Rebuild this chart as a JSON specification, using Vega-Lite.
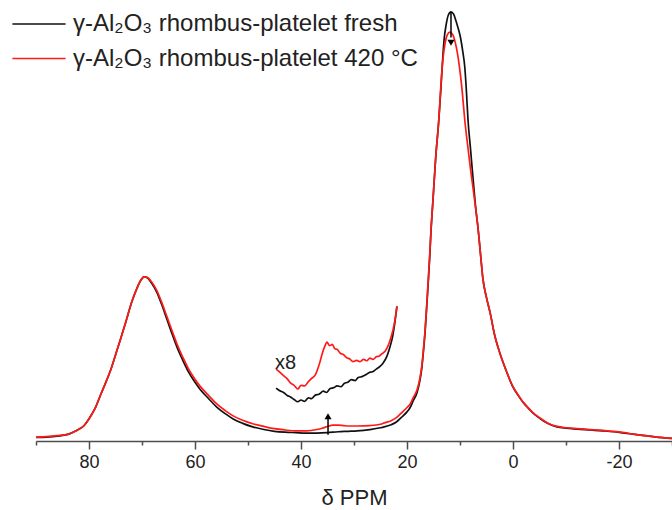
{
  "$schema": "https://vega.github.io/schema/vega-lite/v6.json",
  "width": 636,
  "height": 441,
  "autosize": "none",
  "padding": {"left": 36, "top": 0, "right": 0, "bottom": 69},
  "background": "white",
  "config": {"view": {"stroke": null}, "font": "Liberation Sans"},
  "datasets": {
    "curves": [
      {"ppm": 90, "v": 0.8, "series": "fresh", "part": "main"},
      {"ppm": 88, "v": 0.9, "series": "fresh", "part": "main"},
      {"ppm": 86, "v": 1.1, "series": "fresh", "part": "main"},
      {"ppm": 84, "v": 1.5, "series": "fresh", "part": "main"},
      {"ppm": 83, "v": 2.0, "series": "fresh", "part": "main"},
      {"ppm": 82, "v": 2.6, "series": "fresh", "part": "main"},
      {"ppm": 81, "v": 3.4, "series": "fresh", "part": "main"},
      {"ppm": 80.4, "v": 4.3, "series": "fresh", "part": "main"},
      {"ppm": 79.5, "v": 6.0, "series": "fresh", "part": "main"},
      {"ppm": 78.7, "v": 7.8, "series": "fresh", "part": "main"},
      {"ppm": 77.9, "v": 10.2, "series": "fresh", "part": "main"},
      {"ppm": 77, "v": 12.8, "series": "fresh", "part": "main"},
      {"ppm": 76, "v": 15.8, "series": "fresh", "part": "main"},
      {"ppm": 75, "v": 19.5, "series": "fresh", "part": "main"},
      {"ppm": 74, "v": 23.3, "series": "fresh", "part": "main"},
      {"ppm": 73, "v": 27.2, "series": "fresh", "part": "main"},
      {"ppm": 72, "v": 31.3, "series": "fresh", "part": "main"},
      {"ppm": 71, "v": 34.5, "series": "fresh", "part": "main"},
      {"ppm": 70.2, "v": 36.5, "series": "fresh", "part": "main"},
      {"ppm": 69.6, "v": 37.2, "series": "fresh", "part": "main"},
      {"ppm": 69, "v": 37.0, "series": "fresh", "part": "main"},
      {"ppm": 68.2, "v": 35.8, "series": "fresh", "part": "main"},
      {"ppm": 67.2, "v": 33.7, "series": "fresh", "part": "main"},
      {"ppm": 66.3, "v": 31.0, "series": "fresh", "part": "main"},
      {"ppm": 65.3, "v": 27.6, "series": "fresh", "part": "main"},
      {"ppm": 64.3, "v": 24.2, "series": "fresh", "part": "main"},
      {"ppm": 63.3, "v": 21.0, "series": "fresh", "part": "main"},
      {"ppm": 62.3, "v": 18.3, "series": "fresh", "part": "main"},
      {"ppm": 61.2, "v": 15.6, "series": "fresh", "part": "main"},
      {"ppm": 60, "v": 13.3, "series": "fresh", "part": "main"},
      {"ppm": 59.1, "v": 11.8, "series": "fresh", "part": "main"},
      {"ppm": 57.5, "v": 9.7, "series": "fresh", "part": "main"},
      {"ppm": 55.9, "v": 7.7, "series": "fresh", "part": "main"},
      {"ppm": 54.3, "v": 6.2, "series": "fresh", "part": "main"},
      {"ppm": 52.8, "v": 5.0, "series": "fresh", "part": "main"},
      {"ppm": 51, "v": 4.0, "series": "fresh", "part": "main"},
      {"ppm": 49.1, "v": 3.2, "series": "fresh", "part": "main"},
      {"ppm": 47, "v": 2.6, "series": "fresh", "part": "main"},
      {"ppm": 45, "v": 2.2, "series": "fresh", "part": "main"},
      {"ppm": 43, "v": 2.0, "series": "fresh", "part": "main"},
      {"ppm": 41, "v": 1.9, "series": "fresh", "part": "main"},
      {"ppm": 39, "v": 1.8, "series": "fresh", "part": "main"},
      {"ppm": 37, "v": 1.8, "series": "fresh", "part": "main"},
      {"ppm": 35, "v": 1.9, "series": "fresh", "part": "main"},
      {"ppm": 33, "v": 2.1, "series": "fresh", "part": "main"},
      {"ppm": 31, "v": 2.2, "series": "fresh", "part": "main"},
      {"ppm": 29.4, "v": 2.3, "series": "fresh", "part": "main"},
      {"ppm": 27, "v": 2.6, "series": "fresh", "part": "main"},
      {"ppm": 25, "v": 3.0, "series": "fresh", "part": "main"},
      {"ppm": 24.3, "v": 3.2, "series": "fresh", "part": "main"},
      {"ppm": 23, "v": 3.7, "series": "fresh", "part": "main"},
      {"ppm": 22, "v": 4.3, "series": "fresh", "part": "main"},
      {"ppm": 21.1, "v": 5.3, "series": "fresh", "part": "main"},
      {"ppm": 20, "v": 6.6, "series": "fresh", "part": "main"},
      {"ppm": 19.4, "v": 7.6, "series": "fresh", "part": "main"},
      {"ppm": 18.8, "v": 9.2, "series": "fresh", "part": "main"},
      {"ppm": 18.1, "v": 11.0, "series": "fresh", "part": "main"},
      {"ppm": 17.6, "v": 13.5, "series": "fresh", "part": "main"},
      {"ppm": 17.2, "v": 16.6, "series": "fresh", "part": "main"},
      {"ppm": 16.9, "v": 20.3, "series": "fresh", "part": "main"},
      {"ppm": 16.6, "v": 24.5, "series": "fresh", "part": "main"},
      {"ppm": 16.3, "v": 30.0, "series": "fresh", "part": "main"},
      {"ppm": 16.0, "v": 35.8, "series": "fresh", "part": "main"},
      {"ppm": 15.7, "v": 42.0, "series": "fresh", "part": "main"},
      {"ppm": 15.5, "v": 47.0, "series": "fresh", "part": "main"},
      {"ppm": 15.1, "v": 54.6, "series": "fresh", "part": "main"},
      {"ppm": 14.6, "v": 64.0, "series": "fresh", "part": "main"},
      {"ppm": 14.0, "v": 72.8, "series": "fresh", "part": "main"},
      {"ppm": 13.6, "v": 80.0, "series": "fresh", "part": "main"},
      {"ppm": 13.3, "v": 86.0, "series": "fresh", "part": "main"},
      {"ppm": 13.0, "v": 91.0, "series": "fresh", "part": "main"},
      {"ppm": 12.6, "v": 94.5, "series": "fresh", "part": "main"},
      {"ppm": 12.2, "v": 96.6, "series": "fresh", "part": "main"},
      {"ppm": 11.7, "v": 97.3, "series": "fresh", "part": "main"},
      {"ppm": 11.2, "v": 96.8, "series": "fresh", "part": "main"},
      {"ppm": 10.8, "v": 95.4, "series": "fresh", "part": "main"},
      {"ppm": 10.4, "v": 93.8, "series": "fresh", "part": "main"},
      {"ppm": 10.0, "v": 92.0, "series": "fresh", "part": "main"},
      {"ppm": 9.5, "v": 88.5, "series": "fresh", "part": "main"},
      {"ppm": 9.1, "v": 84.8, "series": "fresh", "part": "main"},
      {"ppm": 8.8, "v": 79.5, "series": "fresh", "part": "main"},
      {"ppm": 8.5, "v": 73.0, "series": "fresh", "part": "main"},
      {"ppm": 8.0, "v": 66.0, "series": "fresh", "part": "main"},
      {"ppm": 7.5, "v": 59.0, "series": "fresh", "part": "main"},
      {"ppm": 7.0, "v": 52.5, "series": "fresh", "part": "main"},
      {"ppm": 6.6, "v": 48.3, "series": "fresh", "part": "main"},
      {"ppm": 6.1, "v": 42.0, "series": "fresh", "part": "main"},
      {"ppm": 5.7, "v": 37.0, "series": "fresh", "part": "main"},
      {"ppm": 5.0, "v": 32.5, "series": "fresh", "part": "main"},
      {"ppm": 4.3, "v": 29.0, "series": "fresh", "part": "main"},
      {"ppm": 3.5, "v": 24.2, "series": "fresh", "part": "main"},
      {"ppm": 2.5, "v": 20.0, "series": "fresh", "part": "main"},
      {"ppm": 1.3, "v": 16.0, "series": "fresh", "part": "main"},
      {"ppm": 0, "v": 12.2, "series": "fresh", "part": "main"},
      {"ppm": -1, "v": 10.3, "series": "fresh", "part": "main"},
      {"ppm": -2, "v": 8.6, "series": "fresh", "part": "main"},
      {"ppm": -3, "v": 7.3, "series": "fresh", "part": "main"},
      {"ppm": -3.8, "v": 6.3, "series": "fresh", "part": "main"},
      {"ppm": -5, "v": 5.2, "series": "fresh", "part": "main"},
      {"ppm": -6.5, "v": 4.0, "series": "fresh", "part": "main"},
      {"ppm": -8.3, "v": 3.2, "series": "fresh", "part": "main"},
      {"ppm": -10, "v": 2.9, "series": "fresh", "part": "main"},
      {"ppm": -12, "v": 2.7, "series": "fresh", "part": "main"},
      {"ppm": -14.5, "v": 2.5, "series": "fresh", "part": "main"},
      {"ppm": -17, "v": 2.3, "series": "fresh", "part": "main"},
      {"ppm": -19, "v": 2.1, "series": "fresh", "part": "main"},
      {"ppm": -21, "v": 1.8, "series": "fresh", "part": "main"},
      {"ppm": -23, "v": 1.5, "series": "fresh", "part": "main"},
      {"ppm": -25, "v": 1.2, "series": "fresh", "part": "main"},
      {"ppm": -27, "v": 0.9, "series": "fresh", "part": "main"},
      {"ppm": -30, "v": 0.6, "series": "fresh", "part": "main"},

      {"ppm": 44.7, "v": 12.0, "series": "fresh", "part": "inset"},
      {"ppm": 44.0, "v": 11.4, "series": "fresh", "part": "inset"},
      {"ppm": 43.3, "v": 11.0, "series": "fresh", "part": "inset"},
      {"ppm": 42.6, "v": 10.3, "series": "fresh", "part": "inset"},
      {"ppm": 42.0, "v": 10.0, "series": "fresh", "part": "inset"},
      {"ppm": 41.3, "v": 9.4, "series": "fresh", "part": "inset"},
      {"ppm": 40.6, "v": 8.9, "series": "fresh", "part": "inset"},
      {"ppm": 40.0, "v": 9.3, "series": "fresh", "part": "inset"},
      {"ppm": 39.3, "v": 9.0, "series": "fresh", "part": "inset"},
      {"ppm": 38.6, "v": 9.8, "series": "fresh", "part": "inset"},
      {"ppm": 38.0, "v": 9.6, "series": "fresh", "part": "inset"},
      {"ppm": 37.3, "v": 10.4, "series": "fresh", "part": "inset"},
      {"ppm": 36.6, "v": 10.6, "series": "fresh", "part": "inset"},
      {"ppm": 35.8, "v": 11.3, "series": "fresh", "part": "inset"},
      {"ppm": 35.2, "v": 11.0, "series": "fresh", "part": "inset"},
      {"ppm": 34.5, "v": 11.9, "series": "fresh", "part": "inset"},
      {"ppm": 33.8, "v": 12.1, "series": "fresh", "part": "inset"},
      {"ppm": 33.2, "v": 12.5, "series": "fresh", "part": "inset"},
      {"ppm": 32.5, "v": 12.3, "series": "fresh", "part": "inset"},
      {"ppm": 31.8, "v": 13.1, "series": "fresh", "part": "inset"},
      {"ppm": 31.2, "v": 13.3, "series": "fresh", "part": "inset"},
      {"ppm": 30.5, "v": 13.9, "series": "fresh", "part": "inset"},
      {"ppm": 29.8, "v": 13.7, "series": "fresh", "part": "inset"},
      {"ppm": 29.2, "v": 14.4, "series": "fresh", "part": "inset"},
      {"ppm": 28.5, "v": 14.6, "series": "fresh", "part": "inset"},
      {"ppm": 27.8, "v": 15.0, "series": "fresh", "part": "inset"},
      {"ppm": 27.2, "v": 15.5, "series": "fresh", "part": "inset"},
      {"ppm": 26.5, "v": 15.7, "series": "fresh", "part": "inset"},
      {"ppm": 25.8, "v": 16.3, "series": "fresh", "part": "inset"},
      {"ppm": 25.1, "v": 16.9, "series": "fresh", "part": "inset"},
      {"ppm": 24.5, "v": 17.7, "series": "fresh", "part": "inset"},
      {"ppm": 23.8, "v": 19.2, "series": "fresh", "part": "inset"},
      {"ppm": 23.3, "v": 21.0, "series": "fresh", "part": "inset"},
      {"ppm": 22.8, "v": 23.2, "series": "fresh", "part": "inset"},
      {"ppm": 22.3, "v": 26.8, "series": "fresh", "part": "inset"},
      {"ppm": 21.9, "v": 30.5, "series": "fresh", "part": "inset"},

      {"ppm": 90, "v": 0.9, "series": "420C", "part": "main"},
      {"ppm": 88, "v": 1.0, "series": "420C", "part": "main"},
      {"ppm": 86, "v": 1.2, "series": "420C", "part": "main"},
      {"ppm": 84, "v": 1.5, "series": "420C", "part": "main"},
      {"ppm": 83, "v": 2.0, "series": "420C", "part": "main"},
      {"ppm": 82, "v": 2.6, "series": "420C", "part": "main"},
      {"ppm": 81, "v": 3.4, "series": "420C", "part": "main"},
      {"ppm": 80.4, "v": 4.3, "series": "420C", "part": "main"},
      {"ppm": 79.5, "v": 6.0, "series": "420C", "part": "main"},
      {"ppm": 78.7, "v": 7.8, "series": "420C", "part": "main"},
      {"ppm": 77.9, "v": 10.2, "series": "420C", "part": "main"},
      {"ppm": 77, "v": 12.8, "series": "420C", "part": "main"},
      {"ppm": 76, "v": 15.8, "series": "420C", "part": "main"},
      {"ppm": 75, "v": 19.5, "series": "420C", "part": "main"},
      {"ppm": 74, "v": 23.3, "series": "420C", "part": "main"},
      {"ppm": 73, "v": 27.2, "series": "420C", "part": "main"},
      {"ppm": 72, "v": 31.3, "series": "420C", "part": "main"},
      {"ppm": 71, "v": 34.5, "series": "420C", "part": "main"},
      {"ppm": 70.2, "v": 36.5, "series": "420C", "part": "main"},
      {"ppm": 69.6, "v": 37.2, "series": "420C", "part": "main"},
      {"ppm": 69, "v": 37.1, "series": "420C", "part": "main"},
      {"ppm": 68.2, "v": 36.1, "series": "420C", "part": "main"},
      {"ppm": 67.2, "v": 34.1, "series": "420C", "part": "main"},
      {"ppm": 66.3, "v": 31.5, "series": "420C", "part": "main"},
      {"ppm": 65.3, "v": 28.2, "series": "420C", "part": "main"},
      {"ppm": 64.3, "v": 24.9, "series": "420C", "part": "main"},
      {"ppm": 63.3, "v": 21.7, "series": "420C", "part": "main"},
      {"ppm": 62.3, "v": 19.0, "series": "420C", "part": "main"},
      {"ppm": 61.2, "v": 16.3, "series": "420C", "part": "main"},
      {"ppm": 60, "v": 14.0, "series": "420C", "part": "main"},
      {"ppm": 59.1, "v": 12.5, "series": "420C", "part": "main"},
      {"ppm": 57.5, "v": 10.4, "series": "420C", "part": "main"},
      {"ppm": 55.9, "v": 8.4, "series": "420C", "part": "main"},
      {"ppm": 54.3, "v": 6.9, "series": "420C", "part": "main"},
      {"ppm": 52.8, "v": 5.7, "series": "420C", "part": "main"},
      {"ppm": 51, "v": 4.7, "series": "420C", "part": "main"},
      {"ppm": 49.1, "v": 3.9, "series": "420C", "part": "main"},
      {"ppm": 47, "v": 3.3, "series": "420C", "part": "main"},
      {"ppm": 45, "v": 2.8, "series": "420C", "part": "main"},
      {"ppm": 43, "v": 2.5, "series": "420C", "part": "main"},
      {"ppm": 41, "v": 2.3, "series": "420C", "part": "main"},
      {"ppm": 39, "v": 2.3, "series": "420C", "part": "main"},
      {"ppm": 37, "v": 2.6, "series": "420C", "part": "main"},
      {"ppm": 36, "v": 2.9, "series": "420C", "part": "main"},
      {"ppm": 35, "v": 3.3, "series": "420C", "part": "main"},
      {"ppm": 34, "v": 3.6, "series": "420C", "part": "main"},
      {"ppm": 33, "v": 3.6, "series": "420C", "part": "main"},
      {"ppm": 32, "v": 3.5, "series": "420C", "part": "main"},
      {"ppm": 31, "v": 3.4, "series": "420C", "part": "main"},
      {"ppm": 29.4, "v": 3.4, "series": "420C", "part": "main"},
      {"ppm": 27, "v": 3.5, "series": "420C", "part": "main"},
      {"ppm": 25, "v": 3.8, "series": "420C", "part": "main"},
      {"ppm": 24.3, "v": 4.1, "series": "420C", "part": "main"},
      {"ppm": 23, "v": 4.6, "series": "420C", "part": "main"},
      {"ppm": 22, "v": 5.3, "series": "420C", "part": "main"},
      {"ppm": 21.1, "v": 6.3, "series": "420C", "part": "main"},
      {"ppm": 20, "v": 7.6, "series": "420C", "part": "main"},
      {"ppm": 19.4, "v": 8.4, "series": "420C", "part": "main"},
      {"ppm": 18.8, "v": 9.9, "series": "420C", "part": "main"},
      {"ppm": 18.1, "v": 11.6, "series": "420C", "part": "main"},
      {"ppm": 17.6, "v": 14.0, "series": "420C", "part": "main"},
      {"ppm": 17.2, "v": 17.1, "series": "420C", "part": "main"},
      {"ppm": 16.9, "v": 20.8, "series": "420C", "part": "main"},
      {"ppm": 16.6, "v": 25.0, "series": "420C", "part": "main"},
      {"ppm": 16.3, "v": 30.5, "series": "420C", "part": "main"},
      {"ppm": 16.0, "v": 36.3, "series": "420C", "part": "main"},
      {"ppm": 15.7, "v": 42.4, "series": "420C", "part": "main"},
      {"ppm": 15.5, "v": 47.2, "series": "420C", "part": "main"},
      {"ppm": 15.1, "v": 54.6, "series": "420C", "part": "main"},
      {"ppm": 14.6, "v": 64.0, "series": "420C", "part": "main"},
      {"ppm": 14.0, "v": 72.8, "series": "420C", "part": "main"},
      {"ppm": 13.5, "v": 82.5, "series": "420C", "part": "main"},
      {"ppm": 13.2, "v": 86.8, "series": "420C", "part": "main"},
      {"ppm": 12.8, "v": 90.3, "series": "420C", "part": "main"},
      {"ppm": 12.4, "v": 92.1, "series": "420C", "part": "main"},
      {"ppm": 11.9, "v": 92.7, "series": "420C", "part": "main"},
      {"ppm": 11.4, "v": 92.2, "series": "420C", "part": "main"},
      {"ppm": 10.9, "v": 90.4, "series": "420C", "part": "main"},
      {"ppm": 10.2, "v": 85.7, "series": "420C", "part": "main"},
      {"ppm": 9.6, "v": 79.5, "series": "420C", "part": "main"},
      {"ppm": 9.1, "v": 72.8, "series": "420C", "part": "main"},
      {"ppm": 8.5, "v": 66.5, "series": "420C", "part": "main"},
      {"ppm": 8.0, "v": 61.5, "series": "420C", "part": "main"},
      {"ppm": 7.5, "v": 57.0, "series": "420C", "part": "main"},
      {"ppm": 7.0, "v": 52.3, "series": "420C", "part": "main"},
      {"ppm": 6.6, "v": 48.3, "series": "420C", "part": "main"},
      {"ppm": 6.1, "v": 42.0, "series": "420C", "part": "main"},
      {"ppm": 5.7, "v": 37.0, "series": "420C", "part": "main"},
      {"ppm": 5.0, "v": 32.5, "series": "420C", "part": "main"},
      {"ppm": 4.3, "v": 29.0, "series": "420C", "part": "main"},
      {"ppm": 3.5, "v": 24.2, "series": "420C", "part": "main"},
      {"ppm": 2.5, "v": 20.0, "series": "420C", "part": "main"},
      {"ppm": 1.3, "v": 16.0, "series": "420C", "part": "main"},
      {"ppm": 0, "v": 12.3, "series": "420C", "part": "main"},
      {"ppm": -1, "v": 10.4, "series": "420C", "part": "main"},
      {"ppm": -2, "v": 8.7, "series": "420C", "part": "main"},
      {"ppm": -3, "v": 7.4, "series": "420C", "part": "main"},
      {"ppm": -3.8, "v": 6.4, "series": "420C", "part": "main"},
      {"ppm": -5, "v": 5.3, "series": "420C", "part": "main"},
      {"ppm": -6.5, "v": 4.1, "series": "420C", "part": "main"},
      {"ppm": -8.3, "v": 3.3, "series": "420C", "part": "main"},
      {"ppm": -10, "v": 3.0, "series": "420C", "part": "main"},
      {"ppm": -12, "v": 2.8, "series": "420C", "part": "main"},
      {"ppm": -14.5, "v": 2.6, "series": "420C", "part": "main"},
      {"ppm": -17, "v": 2.4, "series": "420C", "part": "main"},
      {"ppm": -19, "v": 2.2, "series": "420C", "part": "main"},
      {"ppm": -21, "v": 1.9, "series": "420C", "part": "main"},
      {"ppm": -23, "v": 1.5, "series": "420C", "part": "main"},
      {"ppm": -25, "v": 1.2, "series": "420C", "part": "main"},
      {"ppm": -27, "v": 0.9, "series": "420C", "part": "main"},
      {"ppm": -30, "v": 0.6, "series": "420C", "part": "main"},

      {"ppm": 44.7, "v": 16.3, "series": "420C", "part": "inset"},
      {"ppm": 44.0, "v": 15.6, "series": "420C", "part": "inset"},
      {"ppm": 43.3, "v": 14.8, "series": "420C", "part": "inset"},
      {"ppm": 42.6, "v": 14.1, "series": "420C", "part": "inset"},
      {"ppm": 42.0, "v": 13.2, "series": "420C", "part": "inset"},
      {"ppm": 41.3, "v": 12.6, "series": "420C", "part": "inset"},
      {"ppm": 40.6, "v": 11.8, "series": "420C", "part": "inset"},
      {"ppm": 40.0, "v": 12.6, "series": "420C", "part": "inset"},
      {"ppm": 39.3, "v": 12.5, "series": "420C", "part": "inset"},
      {"ppm": 38.6, "v": 13.5, "series": "420C", "part": "inset"},
      {"ppm": 38.0, "v": 14.2, "series": "420C", "part": "inset"},
      {"ppm": 37.3, "v": 15.0, "series": "420C", "part": "inset"},
      {"ppm": 36.8, "v": 16.5, "series": "420C", "part": "inset"},
      {"ppm": 36.4, "v": 18.0, "series": "420C", "part": "inset"},
      {"ppm": 36.0, "v": 19.8, "series": "420C", "part": "inset"},
      {"ppm": 35.5, "v": 21.5, "series": "420C", "part": "inset"},
      {"ppm": 35.1, "v": 22.4, "series": "420C", "part": "inset"},
      {"ppm": 34.6, "v": 21.6, "series": "420C", "part": "inset"},
      {"ppm": 34.1, "v": 21.9, "series": "420C", "part": "inset"},
      {"ppm": 33.6, "v": 20.9, "series": "420C", "part": "inset"},
      {"ppm": 33.2, "v": 20.8, "series": "420C", "part": "inset"},
      {"ppm": 32.6, "v": 19.9, "series": "420C", "part": "inset"},
      {"ppm": 32.0, "v": 19.6, "series": "420C", "part": "inset"},
      {"ppm": 31.4, "v": 18.9, "series": "420C", "part": "inset"},
      {"ppm": 30.8, "v": 18.6, "series": "420C", "part": "inset"},
      {"ppm": 30.2, "v": 18.0, "series": "420C", "part": "inset"},
      {"ppm": 29.5, "v": 18.3, "series": "420C", "part": "inset"},
      {"ppm": 28.9, "v": 18.0, "series": "420C", "part": "inset"},
      {"ppm": 28.2, "v": 18.5, "series": "420C", "part": "inset"},
      {"ppm": 27.6, "v": 18.2, "series": "420C", "part": "inset"},
      {"ppm": 27.0, "v": 18.8, "series": "420C", "part": "inset"},
      {"ppm": 26.4, "v": 18.5, "series": "420C", "part": "inset"},
      {"ppm": 25.8, "v": 19.1, "series": "420C", "part": "inset"},
      {"ppm": 25.2, "v": 19.3, "series": "420C", "part": "inset"},
      {"ppm": 24.7, "v": 19.8, "series": "420C", "part": "inset"},
      {"ppm": 24.1, "v": 20.4, "series": "420C", "part": "inset"},
      {"ppm": 23.6, "v": 21.5, "series": "420C", "part": "inset"},
      {"ppm": 23.1, "v": 23.2, "series": "420C", "part": "inset"},
      {"ppm": 22.6, "v": 25.4, "series": "420C", "part": "inset"},
      {"ppm": 22.2, "v": 28.0, "series": "420C", "part": "inset"},
      {"ppm": 21.9, "v": 30.6, "series": "420C", "part": "inset"}
    ],
    "arrows": [
      {"ppm": 34.9, "from": 1.4, "to": 5.0, "head": 5.6, "dir": "up"},
      {"ppm": 11.7, "from": 97.3, "to": 91.5, "head": 90.3, "dir": "down"}
    ],
    "notes": [
      {"ppm": 44.9, "v": 17.6, "label": "x8"}
    ]
  },
  "layer": [
    {
      "data": {"name": "curves"},
      "mark": {"type": "line", "strokeWidth": 1.7, "interpolate": "monotone"},
      "encoding": {
        "x": {
          "field": "ppm", "type": "quantitative",
          "scale": {"domain": [-30, 90], "reverse": true, "nice": false, "zero": false},
          "axis": {
            "title": "δ PPM",
            "values": [90, 80, 70, 60, 50, 40, 30, 20, 10, 0, -10, -20, -30],
            "labelExpr": "datum.value % 20 === 0 ? '' + datum.value : ''",
            "tickSize": {"condition": {"test": "datum.value % 20 === 0", "value": 8}, "value": 4},
            "tickWidth": 1.5,
            "tickColor": "#4d4d4d",
            "domainColor": "#4d4d4d",
            "domainWidth": 1.5,
            "grid": false,
            "labelFont": "Liberation Sans",
            "labelFontSize": 18,
            "labelColor": "#222222",
            "labelPadding": 4,
            "labelFlush": false,
            "labelOverlap": false,
            "titleFont": "Liberation Sans",
            "titleFontSize": 22,
            "titleFontWeight": "normal",
            "titleColor": "#222222",
            "titlePadding": 16
          }
        },
        "y": {
          "field": "v", "type": "quantitative",
          "scale": {"domain": [0, 100], "nice": false, "zero": false},
          "axis": null
        },
        "color": {
          "field": "series", "type": "nominal",
          "scale": {"domain": ["fresh", "420C"], "range": ["#111111", "#ff1a1a"]},
          "legend": {
            "title": null,
            "orient": "none",
            "legendX": -18,
            "legendY": 3,
            "symbolType": "M-1.33,0H1.33",
            "symbolSize": 1600,
            "symbolStrokeWidth": 1.5,
            "labelFont": "Liberation Sans",
            "labelFontSize": 24,
            "labelColor": "#222222",
            "labelOffset": 13,
            "labelLimit": 0,
            "rowPadding": 1.5,
            "padding": 0,
            "labelExpr": "datum.label === 'fresh' ? 'γ-Al₂O₃ rhombus-platelet fresh' : 'γ-Al₂O₃ rhombus-platelet 420 °C'"
          }
        },
        "detail": {"field": "part", "type": "nominal"}
      }
    },
    {
      "data": {"name": "arrows"},
      "mark": {"type": "rule", "color": "#000000", "strokeWidth": 1.5},
      "encoding": {
        "x": {"field": "ppm", "type": "quantitative"},
        "y": {"field": "from", "type": "quantitative"},
        "y2": {"field": "to"}
      }
    },
    {
      "data": {"name": "arrows"},
      "mark": {"type": "point", "filled": true, "color": "#000000", "opacity": 1, "size": 50},
      "encoding": {
        "x": {"field": "ppm", "type": "quantitative"},
        "y": {"field": "head", "type": "quantitative"},
        "shape": {
          "field": "dir", "type": "nominal",
          "scale": {"domain": ["up", "down"], "range": ["triangle-up", "triangle-down"]},
          "legend": null
        }
      }
    },
    {
      "data": {"name": "notes"},
      "mark": {"type": "text", "align": "left", "baseline": "middle", "font": "Liberation Sans", "fontSize": 20, "color": "#222222"},
      "encoding": {
        "x": {"field": "ppm", "type": "quantitative"},
        "y": {"field": "v", "type": "quantitative"},
        "text": {"field": "label"}
      }
    }
  ]
}
